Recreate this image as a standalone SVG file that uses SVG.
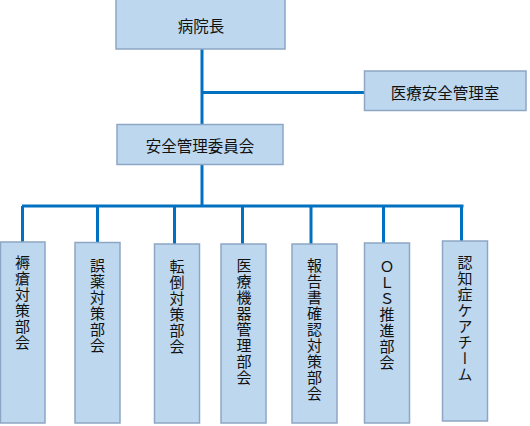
<svg xmlns="http://www.w3.org/2000/svg" width="530" height="426" viewBox="0 0 530 426">
<style>
.box{fill:#BDD7EE;stroke:#8DA6C4;stroke-width:1.5}
.t{font-family:"Noto Sans CJK JP","Noto Sans",sans-serif;font-size:15.5px;fill:#111;text-anchor:middle;dominant-baseline:central}
.v{font-family:"Noto Sans CJK JP","Noto Sans",sans-serif;font-size:15px;fill:#111;writing-mode:vertical-rl;text-orientation:upright;letter-spacing:1px}
.c{stroke:#0070C0;stroke-width:3;fill:none}
</style>
<rect width="530" height="426" fill="#fff"/>
<g id="connectors">
<path class="c" d="M202 49V124"/>
<path class="c" d="M202 92.5H365"/>
<path class="c" d="M202 164V206"/>
<path class="c" d="M22 206H463.5"/>
<path class="c" d="M22.5 206V242"/>
<path class="c" d="M97.5 206V242"/>
<path class="c" d="M174.5 206V244"/>
<path class="c" d="M242.5 206V244"/>
<path class="c" d="M311 206V244"/>
<path class="c" d="M383.5 206V243"/>
<path class="c" d="M461.5 206V241"/>
</g>
<g id="n-director"><rect class="box" x="116" y="-1" width="169" height="50"/><text class="t" x="201" y="25">病院長</text></g>
<g id="n-safety-office"><rect class="box" x="364.5" y="71" width="161.5" height="39.5"/><text class="t" x="445" y="91.5">医療安全管理室</text></g>
<g id="n-committee"><rect class="box" x="117" y="124.5" width="166" height="40"/><text class="t" x="200" y="144.5">安全管理委員会</text></g>
<g id="n1"><rect class="box" x="0.5" y="242" width="44.5" height="181"/><text class="v" x="22.5" y="255">褥瘡対策部会</text></g>
<g id="n2"><rect class="box" x="75" y="242.5" width="45" height="180.5"/><text class="v" x="97.5" y="257.5">誤薬対策部会</text></g>
<g id="n3"><rect class="box" x="154.5" y="244" width="45" height="179"/><text class="v" x="177" y="258.5">転倒対策部会</text></g>
<g id="n4"><rect class="box" x="221" y="244" width="45" height="179"/><text class="v" x="244" y="257.5">医療機器管理部会</text></g>
<g id="n5"><rect class="box" x="292" y="244" width="45" height="179"/><text class="v" x="314.5" y="257.5">報告書確認対策部会</text></g>
<g id="n6"><rect class="box" x="364.5" y="243" width="45" height="180"/><text class="v" x="387" y="258.5">ＯＬＳ推進部会</text></g>
<g id="n7"><rect class="box" x="442.5" y="241" width="45" height="180"/><text class="v" x="465" y="255">認知症ケアチーム</text></g>
</svg>
